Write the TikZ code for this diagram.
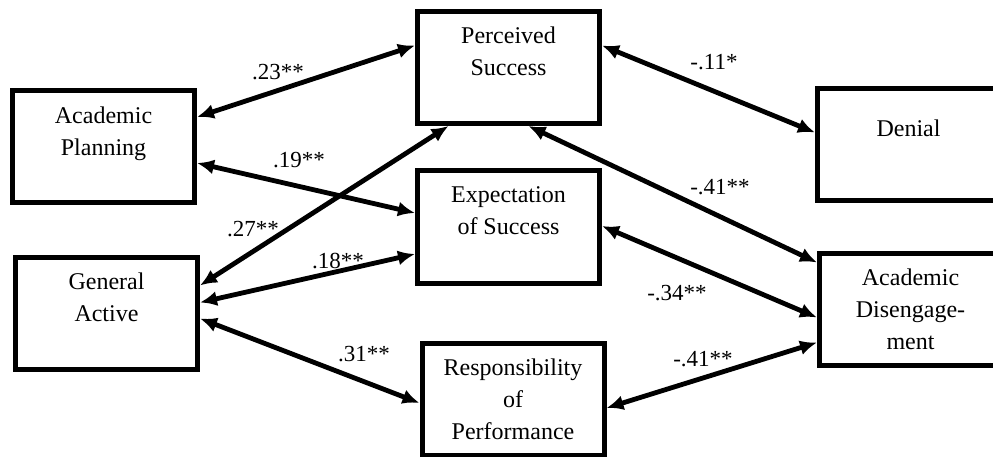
\documentclass[tikz,border=0pt]{standalone}
\usepackage{fontspec}
\setmainfont{Liberation Serif}
\usetikzlibrary{arrows.meta}

\tikzset{
    varbox/.style={draw, line width=5pt, minimum width=182pt, minimum height=112pt,
        inner sep=0pt, align=center, font=\fontsize{24}{32}\selectfont},
    corr/.style={{Latex[length=17pt,width=15pt]}-{Latex[length=17pt,width=15pt]}, line width=4.8pt},
    coef/.style={inner sep=0pt, font=\fontsize{23}{28}\selectfont}
}

\begin{document}
\begin{tikzpicture}[x=1pt, y=-1pt]
                \clip (0,0) rectangle (993,457);

                    \node[varbox] (ap) at (103.5,147) {Academic\\Planning\\\mbox{}};
                    \node[varbox] (ga) at (106.5,313.5) {General\\Active\\\mbox{}};
                    \node[varbox] (ps) at (508.5,67.5) {Perceived\\Success\\\mbox{}};
                    \node[varbox] (es) at (508.5,227) {Expectation\\of Success\\\mbox{}};
                    \node[varbox] (rp) at (513,399) {Responsibility\\of\\Performance};
                    \node[varbox] (dn) at (908.5,144.5) {Denial\\\mbox{}};
                    \node[varbox] (ad) at (910.5,309.5) {Academic\\Disengage-\\ment};

                    \draw[corr] ([yshift=30pt]ap.east) -- ([yshift=22pt]ps.west);
                    \draw[corr] ([yshift=-16pt]ap.east) -- ([yshift=14pt]es.west);
                    \draw[corr] ([yshift=28pt]ga.east) -- ([xshift=-60pt]ps.south);
                    \draw[corr] ([yshift=11pt]ga.east) -- ([yshift=-27pt]es.west);
                    \draw[corr] ([yshift=-5pt]ga.east) -- ([yshift=-4pt]rp.west);
                    \draw[corr] ([yshift=22pt]ps.east) -- ([yshift=12pt]dn.west);
                    \draw[corr] ([xshift=20pt]ps.south) -- ([yshift=47pt]ad.west);
                    \draw[corr] ([yshift=1pt]es.east) -- ([yshift=-8pt]ad.west);
                    \draw[corr] ([yshift=-9pt]rp.east) -- ([yshift=-33pt]ad.west);

                    \foreach \x/\y/\tag/\name in {
                        278/72/.23**/apps,
                        299/160/.19**/apes,
                        253/229/.27**/gaps,
                        338/261/.18**/gaes,
                        364/354/.31**/garp,
                        714/62/-.11*/psdn,
                        720/187/-.41**/psad,
                        677/293/-.34**/esad,
                        703/359/-.41**/rpad
                    } {
                        \node[coef] (c\name) at (\x,\y) {\tag};
                    };

                \end{tikzpicture}
\end{document}
